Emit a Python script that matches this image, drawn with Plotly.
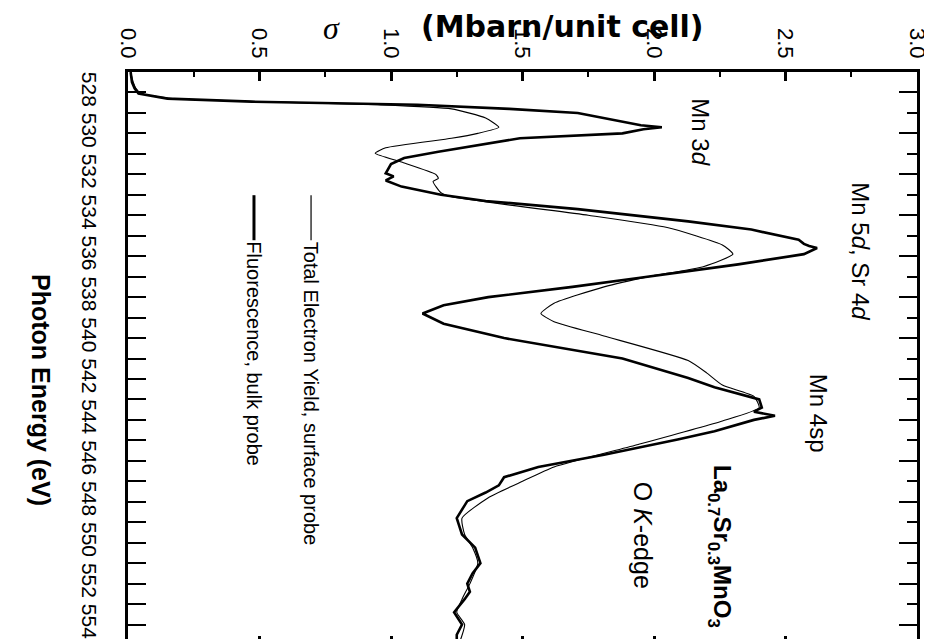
import plotly.graph_objects as go

# ---- data ----
energy_fy = [527.0, 527.5, 527.8, 528.05, 528.3, 528.45, 528.6, 528.8, 529.0, 529.1, 529.4, 529.6, 529.7,
             529.8, 530.0, 530.24, 530.9, 531.2, 531.5, 531.95, 532.1, 532.3, 532.6, 532.8, 533.0, 533.3,
             533.7, 534.3, 534.7, 535.2, 535.4, 535.5, 535.6, 535.9, 536.4, 537.07, 537.5, 538.0, 538.4,
             538.8, 539.3, 540.0, 541.0, 541.95, 542.4, 543.0, 543.4, 543.6, 543.8, 544.0, 544.55, 544.96,
             545.7, 546.3, 546.8, 547.2, 547.55, 547.97, 548.4, 548.8, 549.2, 549.6, 550.24, 551.0, 551.5,
             552.0, 552.4, 552.76, 553.4, 554.0, 554.5, 554.9]
sigma_fy = [0.01, 0.015, 0.025, 0.04, 0.15, 0.47, 1.10, 1.45, 1.71, 1.75, 1.87, 1.95, 2.03,
            1.96, 1.88, 1.49, 1.18, 1.05, 1.00, 0.98, 1.01, 0.98, 1.04, 1.11, 1.19, 1.36,
            1.71, 2.13, 2.37, 2.55, 2.57, 2.59, 2.62, 2.57, 2.32, 1.94, 1.69, 1.37, 1.20,
            1.12, 1.20, 1.43, 1.88, 2.13, 2.23, 2.40, 2.41, 2.38, 2.46, 2.38, 2.23, 2.09,
            1.81, 1.56, 1.43, 1.41, 1.36, 1.29, 1.27, 1.25, 1.26, 1.27, 1.32, 1.34, 1.31,
            1.29, 1.30, 1.28, 1.24, 1.27, 1.25, 1.25]

energy_tey = [527.0, 527.5, 527.8, 528.05, 528.3, 528.45, 528.6, 528.8, 529.25, 529.7, 530.0, 530.24,
              530.7, 530.97, 531.4, 532.0, 532.2, 532.35, 532.9, 533.1, 534.0, 534.6, 535.45, 535.9,
              536.5, 537.0, 537.5, 538.3, 538.8, 539.2, 539.9, 541.1, 541.7, 542.3, 542.85, 543.4,
              544.05, 545.2, 546.3, 547.0, 547.8, 548.8, 549.6, 550.24, 551.0, 552.0, 552.76, 553.4,
              554.0, 554.9]
sigma_tey = [0.01, 0.02, 0.03, 0.05, 0.17, 0.50, 0.95, 1.23, 1.36, 1.41, 1.33, 1.23,
             0.98, 0.94, 1.04, 1.17, 1.18, 1.16, 1.19, 1.23, 1.75, 2.05, 2.26, 2.30,
             2.19, 1.98, 1.81, 1.62, 1.57, 1.62, 1.81, 2.13, 2.20, 2.26, 2.38, 2.40,
             2.26, 1.94, 1.62, 1.50, 1.37, 1.27, 1.28, 1.31, 1.33, 1.30, 1.27, 1.25,
             1.28, 1.26]

sigma_tickvals = [0.0, 0.5, 1.0, 1.5, 2.0, 2.5, 3.0]
sigma_ticktext = ["0.0", "0.5", "1.0", "1.5", "2.0", "2.5", "3.0"]
energy_tickvals = [528, 530, 532, 534, 536, 538, 540, 542, 544, 546, 548, 550, 552, 554]
energy_ticktext = [str(v) for v in energy_tickvals]

SANS = "Liberation Sans, Arial, sans-serif"

fig = go.Figure()
fig.add_trace(go.Scatter(x=sigma_tey, y=energy_tey, mode="lines",
                         line=dict(color="black", width=1.1, shape="spline", smoothing=0.5),
                         showlegend=False, hoverinfo="skip"))
fig.add_trace(go.Scatter(x=sigma_fy, y=energy_fy, mode="lines",
                         line=dict(color="black", width=2.6),
                         showlegend=False, hoverinfo="skip"))
fig.add_trace(go.Scatter(x=[None], y=[None], xaxis="x2", yaxis="y2", showlegend=False))

common_x = dict(range=[0, 3], showgrid=False, zeroline=False, showline=True, linecolor="black",
                linewidth=2.5, ticks="inside", ticklen=9, tickwidth=2.5, tickcolor="black",
                tickmode="array", tickvals=sigma_tickvals, ticktext=sigma_ticktext,
                minor=dict(dtick=0.25, tick0=0, ticks="inside", ticklen=5, tickwidth=2,
                           tickcolor="black", showgrid=False))
common_y = dict(range=[555, 527], showgrid=False, zeroline=False, showline=True, linecolor="black",
                linewidth=2.5, ticks="inside", ticklen=18, tickwidth=1.6, tickcolor="black",
                tickmode="array", tickvals=energy_tickvals, ticktext=energy_ticktext)

fig.update_layout(
    width=932, height=639,
    margin=dict(l=120, r=23, t=64, b=2),
    paper_bgcolor="white", plot_bgcolor="white",
    xaxis=dict(common_x, side="top", tickangle=90, ticklabelstandoff=3,
               tickfont=dict(family=SANS, size=22, color="black")),
    xaxis2=dict(common_x, side="bottom", overlaying="x", anchor="y", showticklabels=False),
    yaxis=dict(common_y, side="left", tickangle=90, ticklabelstandoff=18,
               tickfont=dict(family=SANS, size=21, color="black"),
               minor=dict(dtick=1, tick0=528, ticks="inside", ticklen=18, tickwidth=1.6,
                          tickcolor="black", showgrid=False)),
    yaxis2=dict(common_y, side="right", overlaying="y", anchor="x", showticklabels=False,
                minor=dict(dtick=1, tick0=528, ticks="inside", ticklen=10, tickwidth=1.6,
                           tickcolor="black", showgrid=False)),
)

def ann(text, x, y, size, xanchor="center", yanchor="middle", family=SANS, angle=90, ref="data"):
    d = dict(text=text, x=x, y=y, showarrow=False, textangle=angle, xanchor=xanchor, yanchor=yanchor,
             font=dict(family=family, size=size, color="black"))
    if ref == "paper":
        d.update(xref="paper", yref="paper")
    else:
        d.update(xref="x", yref="y")
    fig.add_annotation(**d)

# peak labels
ann("Mn 3<i>d</i>", 2.179, 529.9, 24)
ann("Mn 5<i>d</i>, Sr 4<i>d</i>", 2.787, 535.76, 24)
ann("Mn 4sp", 2.624, 543.66, 24)
ann("O <i>K</i>-edge", 1.958, 549.66, 25)
ann("<b>La<sub>0.7</sub>Sr<sub>0.3</sub>MnO<sub>3</sub></b>", 2.25, 550.2, 24)

# legend
ann("Total Electron Yield, surface probe", 0.696, 535.2, 20, yanchor="top")
ann("Fluorescence, bulk probe", 0.479, 535.2, 20, yanchor="top")
fig.add_shape(type="line", x0=0.696, x1=0.696, y0=533.02, y1=535.22, xref="x", yref="y",
              line=dict(color="black", width=1.2))
fig.add_shape(type="line", x0=0.479, x1=0.479, y0=533.02, y1=535.22, xref="x", yref="y",
              line=dict(color="black", width=3))

# axis titles
ann("<i>σ</i>", 0.2573, 1.076, 32, family="Liberation Serif, DejaVu Serif, serif", angle=0, ref="paper")
ann("<b>(Mbarn/unit cell)</b>", 0.5513, 1.08, 30, family="DejaVu Sans, sans-serif", angle=0, ref="paper")
ann("<b>Photon Energy (eV)</b>", -0.1103, 0.445, 25, ref="paper")

fig.write_html("out.html")
